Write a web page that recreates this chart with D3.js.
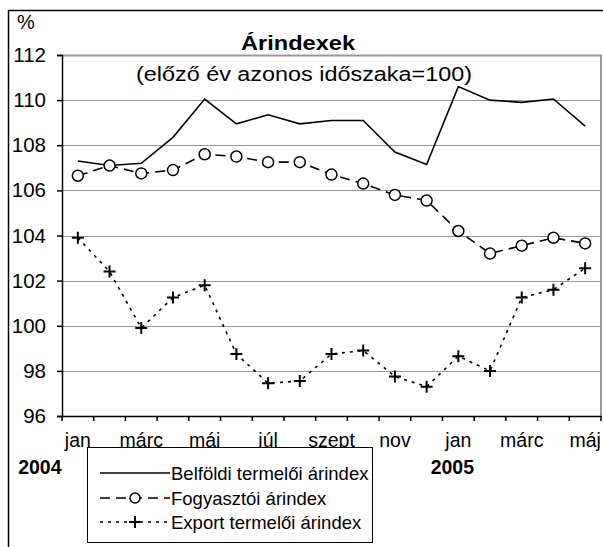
<!DOCTYPE html>
<html>
<head>
<meta charset="utf-8">
<script src="https://cdn.jsdelivr.net/npm/d3@7"></script>
<style>
  body { margin: 0; background: #fff; }
  text { font-family: Arial, "Liberation Sans", sans-serif; fill: #000; }
</style>
</head>
<body>
<div class="chart"></div>
<script>
// months Jan 2004 .. May 2005
var months = ["jan", "febr", "márc", "ápr", "máj", "jún", "júl", "aug", "szept", "okt", "nov", "dec",
              "jan", "febr", "márc", "ápr", "máj"];
var tickLabels = ["jan", "", "márc", "", "máj", "", "júl", "", "szept", "", "nov", "", "jan", "", "márc", "", "máj"];
var yearLabels = ["2004", "2005"];
var yTicks = [96, 98, 100, 102, 104, 106, 108, 110, 112];

var belfoldi   = [107.3, 107.1, 107.2, 108.35, 110.05, 108.95, 109.35, 108.95, 109.1, 109.1, 107.7, 107.15, 110.6, 110.0, 109.9, 110.05, 108.85];
var fogyasztoi = [106.65, 107.1, 106.75, 106.9, 107.6, 107.5, 107.25, 107.25, 106.7, 106.3, 105.8, 105.55, 104.2, 103.2, 103.55, 103.9, 103.65];
var exportIdx  = [103.9, 102.4, 99.9, 101.25, 101.8, 98.75, 97.45, 97.55, 98.75, 98.9, 97.75, 97.3, 98.65, 98.0, 101.25, 101.6, 102.55];

var seriesNames = ["Belföldi termelői árindex", "Fogyasztói árindex", "Export termelői árindex"];

function draw() {
  var width = 603, height = 547;
  var pLeft = 62, pRight = 601, pTop = 55, pBottom = 416;

  var svg = d3.select(".chart").append("svg")
    .attr("width", width).attr("height", height);

  // outer frame (cut off at right and bottom)
  svg.append("path").attr("d", "M8.5,547 V10.5 H603")
    .attr("fill", "none").attr("stroke", "#000").attr("stroke-width", 1.5);

  var x = d3.scaleBand().domain(d3.range(months.length)).range([pLeft, pRight]);
  var y = d3.scaleLinear().domain([96, 112]).range([pBottom, pTop]);
  var cx = function (i) { return x(i) + x.bandwidth() / 2; };

  // gridlines
  svg.append("g").selectAll("line").data(yTicks.slice(1)).enter().append("line")
    .attr("x1", pLeft).attr("x2", pRight)
    .attr("y1", function (d) { return Math.round(y(d)) + 0.5; })
    .attr("y2", function (d) { return Math.round(y(d)) + 0.5; })
    .attr("stroke", "#999").attr("stroke-width", 1);

  // plot area border top/right
  svg.append("path").attr("d", "M" + pLeft + "," + (pTop + 0.5) + " H" + pRight + " V" + pBottom)
    .attr("fill", "none").attr("stroke", "#999").attr("stroke-width", 2);

  // y axis
  var yAxis = svg.append("g").attr("transform", "translate(" + pLeft + ",0)")
    .call(d3.axisLeft(y).tickValues(yTicks).tickSize(5).tickPadding(11));
  yAxis.select(".domain").attr("stroke-width", 1.5);
  yAxis.selectAll("line").attr("stroke-width", 1.5);
  yAxis.selectAll("text").attr("font-size", 20.5).attr("font-family", "Arial, 'Liberation Sans'");

  // x axis
  var xAxis = svg.append("g").attr("transform", "translate(0," + pBottom + ")")
    .call(d3.axisBottom(x).tickSize(0).tickFormat(function (d) { return tickLabels[d]; }).tickPadding(17));
  xAxis.select(".domain").attr("stroke-width", 1.5);
  xAxis.selectAll("text").attr("font-size", 19.5).attr("font-family", "Arial, 'Liberation Sans'");
  // ticks on category boundaries
  xAxis.selectAll(".bnd").data(d3.range(months.length + 1)).enter().append("line")
    .attr("x1", function (i) { return i < months.length ? x(i) : pRight; })
    .attr("x2", function (i) { return i < months.length ? x(i) : pRight; })
    .attr("y1", 0).attr("y2", 5).attr("stroke", "#000").attr("stroke-width", 1.5);

  // year labels near the january ticks
  var yearShift = [-38, -6];
  svg.selectAll(".year").data(yearLabels).enter().append("text")
    .attr("x", function (d, i) { return cx(i * 12) + yearShift[i]; })
    .attr("y", 474)
    .attr("text-anchor", "middle").attr("font-weight", "bold").attr("font-size", 19.5)
    .text(function (d) { return d; });

  // % label, titles
  svg.append("text").attr("x", 17).attr("y", 29).attr("font-size", 20).text("%");
  svg.append("text").attr("x", 298).attr("y", 50).attr("text-anchor", "middle")
    .attr("font-weight", "bold").attr("font-size", 21)
    .attr("textLength", 114).attr("lengthAdjust", "spacingAndGlyphs").text("Árindexek");
  svg.append("text").attr("x", 304).attr("y", 81).attr("text-anchor", "middle")
    .attr("font-size", 20.5)
    .attr("textLength", 336).attr("lengthAdjust", "spacingAndGlyphs").text("(előző év azonos időszaka=100)");

  var line = d3.line().x(function (d, i) { return cx(i); }).y(function (d) { return y(d); });

  // Belföldi: solid
  svg.append("path").datum(belfoldi).attr("d", line)
    .attr("fill", "none").attr("stroke", "#000").attr("stroke-width", 1.6);

  // Export: dotted with + markers
  svg.append("path").datum(exportIdx).attr("d", line)
    .attr("fill", "none").attr("stroke", "#000").attr("stroke-width", 1.6)
    .attr("stroke-dasharray", "3,5");
  function plus(g, px, py) {
    g.append("path").attr("d", "M" + (px - 6) + "," + py + "H" + (px + 6) + "M" + px + "," + (py - 6) + "V" + (py + 6))
      .attr("stroke", "#000").attr("stroke-width", 2).attr("fill", "none");
  }
  var gx = svg.append("g");
  exportIdx.forEach(function (d, i) { plus(gx, cx(i), y(d)); });

  // Fogyasztói: dashed with open circles
  svg.append("path").datum(fogyasztoi).attr("d", line)
    .attr("fill", "none").attr("stroke", "#000").attr("stroke-width", 1.6)
    .attr("stroke-dasharray", "10,6");
  svg.append("g").selectAll("circle").data(fogyasztoi).enter().append("circle")
    .attr("cx", function (d, i) { return cx(i); })
    .attr("cy", function (d) { return y(d); })
    .attr("r", 5.5).attr("fill", "#fff").attr("stroke", "#000").attr("stroke-width", 1.5);

  // legend
  var lg = svg.append("g");
  lg.append("rect").attr("x", 87.5).attr("y", 447.5).attr("width", 285).attr("height", 95)
    .attr("fill", "#fff").attr("stroke", "#000").attr("stroke-width", 1);
  var rows = [473, 498, 522];
  var styles = [null, "10,6", "3,5"];
  seriesNames.forEach(function (name, i) {
    lg.append("line").attr("x1", 100).attr("x2", 170).attr("y1", rows[i]).attr("y2", rows[i])
      .attr("stroke", "#000").attr("stroke-width", 1.6)
      .attr("stroke-dasharray", styles[i]);
    if (i === 1) {
      lg.append("circle").attr("cx", 135).attr("cy", rows[i]).attr("r", 5)
        .attr("fill", "#fff").attr("stroke", "#000").attr("stroke-width", 1.5);
    }
    if (i === 2) plus(lg, 135, rows[i]);
    lg.append("text").attr("x", 171).attr("y", rows[i] + 7).attr("font-size", 18.5).text(name);
  });
}
draw();
</script>
</body>
</html>
